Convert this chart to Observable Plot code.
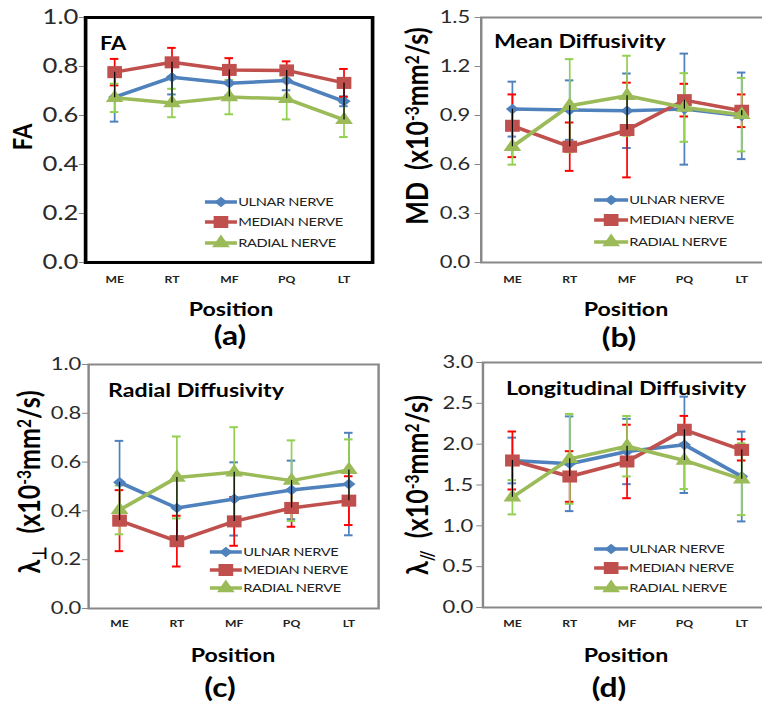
<!DOCTYPE html>
<html><head><meta charset="utf-8">
<script src="https://cdn.jsdelivr.net/npm/d3@7"></script>
<script src="https://cdn.jsdelivr.net/npm/@observablehq/plot@0.6"></script>
<style>
html,body{margin:0;padding:0;background:#fff;}
#page{position:relative;width:762px;height:705px;overflow:hidden;background:#fff;}
#fig{position:absolute;left:0;top:0;width:625px;height:705px;transform:scaleX(1.22);transform-origin:0 0;font-family:Lato,"Open Sans",sans-serif;color:#000;}
#fig .abs{position:absolute;white-space:nowrap;line-height:1;}
#fig sup{font-size:0.62em;position:relative;top:-0.45em;vertical-align:baseline;}
#fig sub{font-size:0.62em;position:relative;top:0.3em;vertical-align:baseline;}
</style></head><body>
<div id="page"><div id="fig"></div></div>
<script>
const S = 1.22; // horizontal stretch of the original figure

const positions = ["ME", "RT", "MF", "PQ", "LT"];
const nerveNames = ["ULNAR NERVE", "MEDIAN NERVE", "RADIAL NERVE"];
const lineColors = ["#4F81BD", "#C0504D", "#9BBB59"];
const errColors = ["#4F81BD", "#FF0000", "#92D050"];

// (a) FA
const faUlnarMean = [0.675, 0.756, 0.732, 0.743, 0.658];
const faUlnarSD = [0.10, 0.07, 0.05, 0.04, 0.02];
const faMedianMean = [0.777, 0.817, 0.786, 0.784, 0.733];
const faMedianSD = [0.054, 0.059, 0.048, 0.037, 0.057];
const faRadialMean = [0.672, 0.651, 0.675, 0.668, 0.582];
const faRadialSD = [0.058, 0.058, 0.07, 0.084, 0.07];

// (b) Mean diffusivity
const mdUlnarMean = [0.939, 0.933, 0.929, 0.939, 0.898];
const mdUlnarSD = [0.168, 0.182, 0.228, 0.34, 0.265];
const mdMedianMean = [0.837, 0.709, 0.811, 0.994, 0.929];
const mdMedianSD = [0.192, 0.148, 0.29, 0.1, 0.1];
const mdRadialMean = [0.709, 0.96, 1.021, 0.949, 0.905];
const mdRadialSD = [0.11, 0.285, 0.245, 0.21, 0.225];

// (c) Radial diffusivity
const rdUlnarMean = [0.517, 0.412, 0.449, 0.486, 0.51];
const rdUlnarSD = [0.17, 0.13, 0.15, 0.12, 0.21];
const rdMedianMean = [0.36, 0.276, 0.357, 0.412, 0.442];
const rdMedianSD = [0.125, 0.104, 0.10, 0.077, 0.10];
const rdRadialMean = [0.404, 0.537, 0.558, 0.524, 0.568];
const rdRadialSD = [0.10, 0.168, 0.185, 0.165, 0.125];

// (d) Longitudinal diffusivity
const ldUlnarMean = [1.80, 1.76, 1.91, 1.992, 1.604];
const ldUlnarSD = [0.28, 0.58, 0.40, 0.59, 0.55];
const ldMedianMean = [1.80, 1.604, 1.788, 2.176, 1.93];
const ldMedianSD = [0.355, 0.31, 0.45, 0.17, 0.13];
const ldRadialMean = [1.35, 1.82, 1.975, 1.80, 1.571];
const ldRadialSD = [0.21, 0.55, 0.37, 0.35, 0.44];

const faTicks = [0, 0.2, 0.4, 0.6, 0.8, 1.0];
const mdTicks = [0, 0.3, 0.6, 0.9, 1.2, 1.5];
const rdTicks = [0, 0.2, 0.4, 0.6, 0.8, 1.0];
const ldTicks = [0, 0.5, 1.0, 1.5, 2.0, 2.5, 3.0];

const plotSymbols = ["diamond2", "square", "triangle"];
const d3Symbols = [d3.symbolDiamond2, d3.symbolSquare, d3.symbolTriangle];
const symbolR = [4.8, 6.8, 5.4];

function rows(means, sds) {
  return positions.map((p, i) => ({pos: p, mean: means[i], sd: sds[i]}));
}

const fig = d3.select("#fig");

function panel(cfg) {
  const {svgLeft, svgTop, fx0, fx1, fy0, fy1, domain, ticks, series, frame, tickFont, tickPad, xLabPad} = cfg;
  const marginLeft = (fx0 - svgLeft) / S;
  const plotW = (fx1 - fx0) / S;
  const marginRight = 6;
  const marginTop = fy0 - svgTop;
  const marginBottom = 34;
  const height = fy1 - svgTop + marginBottom;
  const width = marginLeft + plotW + marginRight;
  const all = series.flatMap((s) => s);
  const marks = [
    Plot.axisY({ticks, tickFormat: (d) => d.toFixed(1), tickSize: 5, tickPadding: tickPad, fontSize: tickFont, stroke: "#888", fill: "#2a2a2a", label: null}),
    Plot.axisX({tickSize: 0, tickPadding: xLabPad, fontSize: 10, fontWeight: "bold", fill: "#222", label: null})
  ];
  series.forEach((s, k) => {
    marks.push(Plot.ruleX(s, {x: "pos", y1: (d) => d.mean - d.sd, y2: (d) => d.mean + d.sd, stroke: errColors[k], strokeWidth: 1.4}));
    marks.push(Plot.tickY(s, {x: "pos", y: (d) => d.mean - d.sd, stroke: errColors[k], strokeWidth: 2}));
    marks.push(Plot.tickY(s, {x: "pos", y: (d) => d.mean + d.sd, stroke: errColors[k], strokeWidth: 2}));
  });
  series.forEach((s, k) => {
    marks.push(Plot.line(s, {x: "pos", y: "mean", stroke: lineColors[k], strokeWidth: 3.5}));
    marks.push(Plot.dot(s, {x: "pos", y: "mean", symbol: plotSymbols[k], r: symbolR[k], fill: lineColors[k], stroke: "none"}));
  });
  marks.push(Plot.ruleX(all, Plot.groupX({y1: "min", y2: "max"}, {x: "pos", y: "mean", stroke: "#000", strokeWidth: 1})));
  marks.push(Plot.frame(frame));
  const chart = Plot.plot({
    width, height, marginLeft, marginRight, marginTop, marginBottom,
    x: {type: "band", domain: positions, paddingInner: 0.86, paddingOuter: 0.43, axis: null},
    y: {domain, axis: null},
    style: {fontFamily: "Lato, 'Open Sans', sans-serif", background: "transparent", overflow: "visible"},
    marks
  });
  d3.select(chart).style("position", "absolute").style("left", (svgLeft / S) + "px").style("top", svgTop + "px");
  fig.node().appendChild(chart);
}

function centerText(html, x, y, size, rotate) {
  fig.append("div").attr("class", "abs").html(html)
    .style("left", (x / S) + "px").style("top", y + "px")
    .style("font-size", size + "px").style("font-weight", "bold")
    .style("transform", "translate(-50%,-50%)" + (rotate ? " rotate(-90deg)" : ""));
}
function leftText(html, x, y, size) {
  fig.append("div").attr("class", "abs").html(html)
    .style("left", (x / S) + "px").style("top", y + "px")
    .style("font-size", size + "px").style("font-weight", "bold")
    .style("transform", "translate(0,-50%)");
}
function legend(x0, x1, ys) {
  const w = (x1 - x0) / S;
  nerveNames.forEach((name, k) => {
    const div = fig.append("div").attr("class", "abs")
      .style("left", (x0 / S) + "px").style("top", (ys[k] - 10) + "px")
      .style("height", "20px").style("display", "flex").style("align-items", "center");
    const svg = div.append("svg").attr("width", w).attr("height", 20).style("overflow", "visible");
    svg.append("line").attr("x1", 0).attr("x2", w).attr("y1", 10).attr("y2", 10)
      .attr("stroke", lineColors[k]).attr("stroke-width", 3.5);
    svg.append("path").attr("d", d3.symbol(d3Symbols[k], Math.PI * symbolR[k] * symbolR[k])())
      .attr("transform", `translate(${w / 2},10)`).attr("fill", lineColors[k]);
    div.append("span").text(name).style("font-size", "12px").style("letter-spacing", "-0.3px")
      .style("color", "#222").style("margin-left", "1px");
  });
}

// (a)
panel({svgLeft: 0, svgTop: 0, fx0: 85, fx1: 372, fy0: 17, fy1: 262, domain: [0, 1], ticks: faTicks,
  series: [rows(faUlnarMean, faUlnarSD), rows(faMedianMean, faMedianSD), rows(faRadialMean, faRadialSD)],
  frame: {stroke: "#000", strokeWidth: 3}, tickFont: 21, tickPad: 1, xLabPad: 13});
// (b)
panel({svgLeft: 381, svgTop: 0, fx0: 481, fx1: 773, fy0: 17, fy1: 262, domain: [0, 1.5], ticks: mdTicks,
  series: [rows(mdUlnarMean, mdUlnarSD), rows(mdMedianMean, mdMedianSD), rows(mdRadialMean, mdRadialSD)],
  frame: {stroke: "#888", strokeWidth: 2}, tickFont: 18, tickPad: 4, xLabPad: 13});
// (c)
panel({svgLeft: 0, svgTop: 352, fx0: 88, fx1: 378, fy0: 364, fy1: 608, domain: [0, 1], ticks: rdTicks,
  series: [rows(rdUlnarMean, rdUlnarSD), rows(rdMedianMean, rdMedianSD), rows(rdRadialMean, rdRadialSD)],
  frame: {stroke: "#888", strokeWidth: 2}, tickFont: 18, tickPad: 1, xLabPad: 11});
// (d)
panel({svgLeft: 381, svgTop: 352, fx0: 482.7, fx1: 771, fy0: 362, fy1: 607, domain: [0, 3], ticks: ldTicks,
  series: [rows(ldUlnarMean, ldUlnarSD), rows(ldMedianMean, ldMedianSD), rows(ldRadialMean, ldRadialSD)],
  frame: {stroke: "#888", strokeWidth: 2}, tickFont: 18, tickPad: 3, xLabPad: 12});

// titles inside plots
leftText("FA", 100, 43, 18);
leftText("Mean Diffusivity", 494, 40, 19);
leftText("Radial Diffusivity", 108, 389, 19);
leftText("Longitudinal Diffusivity", 506, 387, 19);

// y-axis titles
centerText("FA", 22, 137, 22, true);
centerText("MD&nbsp; (x10<sup>-3</sup>mm<sup>2</sup>/s)", 416, 126, 25, true);
centerText("λ<sub>⊥</sub>&nbsp; (x10<sup>-3</sup>mm<sup>2</sup>/s)", 28, 482, 25, true);
centerText("λ<sub>//</sub>&nbsp; (x10<sup>-3</sup>mm<sup>2</sup>/s)", 416, 485, 25, true);

// x-axis titles and panel letters
centerText("Position", 231, 308, 19, false);
centerText("Position", 626, 308, 19, false);
centerText("Position", 233, 654, 19, false);
centerText("Position", 626, 654, 19, false);
centerText("(a)", 230, 335, 26, false);
centerText("(b)", 619, 337, 26, false);
centerText("(c)", 220, 687, 26, false);
centerText("(d)", 609, 687, 26, false);

// legends
legend(205, 237, [202, 222, 243]);
legend(594, 628, [200, 220, 242]);
legend(210, 242, [552, 570, 588]);
legend(594, 628, [549, 568, 588]);
</script>
</body></html>
